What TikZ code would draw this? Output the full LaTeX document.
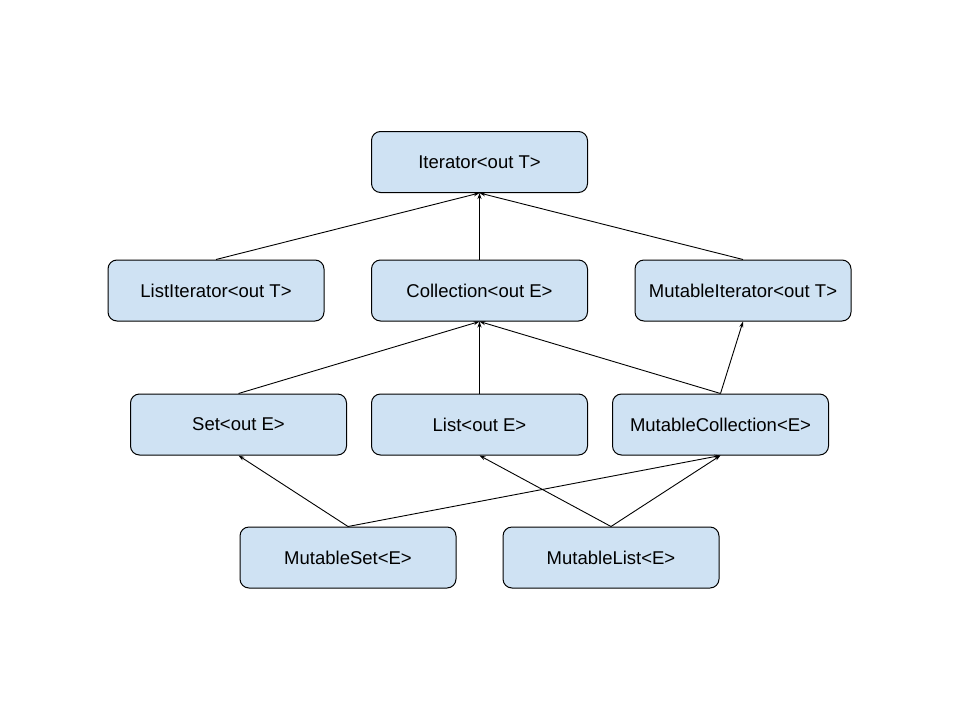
\documentclass[tikz,border=0pt]{standalone}
\usepackage{fontspec}
\setmainfont{Liberation Sans}
\usetikzlibrary{arrows.meta}
\definecolor{boxfill}{HTML}{CFE2F3}
\begin{document}
\begin{tikzpicture}[x=1pt,y=-1pt,
  cls/.style={draw=black, line width=1pt, fill=boxfill, rounded corners=9pt,
    minimum width=216pt, minimum height=61pt, inner sep=0pt, font=\fontsize{18.5}{22}\selectfont},
  inh/.style={-{Stealth[length=6pt,width=4pt]}, line width=0.9pt}]
\useasboundingbox (0,0) rectangle (960,720);
\node[cls] (it) at (479.5,162) {Iterator<out T>};
\node[cls] (li) at (216,290.5) {ListIterator<out T>};
\node[cls] (co) at (479.5,290.5) {Collection<out E>};
\node[cls] (mi) at (743,290.5) {MutableIterator<out T>};
\node[cls] (se) at (238.5,424.5) {Set<out E>};
\node[cls] (ls) at (479.5,424.5) {List<out E>};
\node[cls] (mc) at (720.5,424.5) {MutableCollection<E>};
\node[cls] (ms) at (348,557.5) {MutableSet<E>};
\node[cls] (ml) at (611,557.5) {MutableList<E>};
\draw[inh] (li.north) -- (it.south);
\draw[inh] (co.north) -- (it.south);
\draw[inh] (mi.north) -- (it.south);
\draw[inh] (se.north) -- (co.south);
\draw[inh] (ls.north) -- (co.south);
\draw[inh] (mc.north) -- (co.south);
\draw[inh] (mc.north) -- (mi.south);
\draw[inh] (ms.north) -- (se.south);
\draw[inh] (ms.north) -- (mc.south);
\draw[inh] (ml.north) -- (ls.south);
\draw[inh] (ml.north) -- (mc.south);
\end{tikzpicture}
\end{document}
